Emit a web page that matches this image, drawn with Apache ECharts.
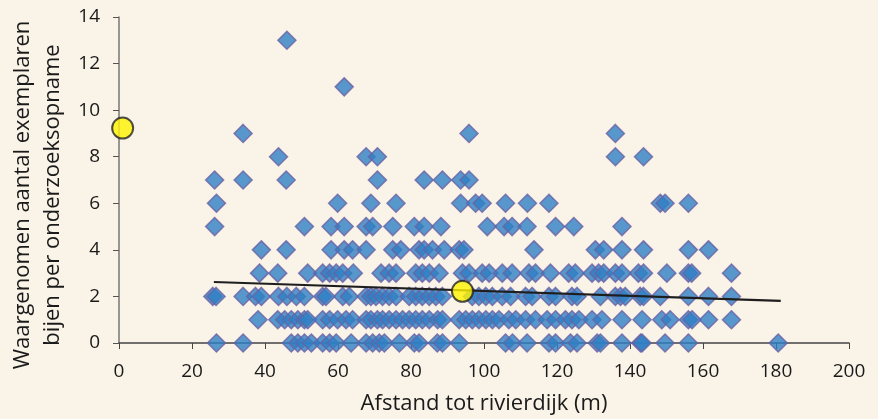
<!DOCTYPE html>
<html>
<head>
<meta charset="utf-8">
<script src="https://cdn.jsdelivr.net/npm/echarts@6/dist/echarts.min.js"></script>
<style>
  html, body { margin: 0; padding: 0; background: #F9F3E8; }
  #chart { width: 878px; height: 419px; }
</style>
</head>
<body>
<div id="chart"></div>
<script>
// afstand tot rivierdijk (m) per waargenomen aantal bijen
const count0 = [26.7, 34.0, 47.2, 49.0, 50.8, 52.7, 55.8, 57.7, 59.5, 63.6, 67.7, 69.5, 71.3, 72.7, 76.8, 80.9, 82.2, 87.2, 88.6, 93.2, 105.9, 107.8, 111.8, 117.8, 119.6, 123.7, 125.5, 131.0, 131.9, 137.8, 142.9, 143.3, 149.6, 156.0, 180.6];
const count1 = [38.1, 43.5, 45.4, 47.2, 49.0, 50.8, 51.7, 55.8, 57.7, 59.9, 62.2, 64.0, 67.7, 69.0, 70.8, 72.2, 74.0, 75.9, 77.7, 79.5, 81.3, 83.1, 85.0, 87.3, 88.6, 93.2, 95.0, 96.8, 98.6, 100.5, 102.3, 104.1, 106.8, 108.7, 111.4, 114.1, 117.3, 119.6, 122.3, 124.1, 126.0, 129.6, 132.3, 137.8, 143.3, 148.7, 151.0, 156.0, 157.0, 161.5, 167.8];
const count2 = [25.7, 26.6, 34.0, 37.4, 39.0, 43.7, 46.0, 48.6, 50.8, 55.8, 56.7, 61.3, 63.1, 67.7, 69.0, 70.4, 72.2, 74.0, 75.9, 79.5, 81.3, 83.1, 85.0, 86.8, 88.6, 96.8, 98.6, 100.5, 102.3, 105.0, 107.3, 111.4, 113.2, 117.8, 119.6, 124.1, 125.5, 131.9, 136.0, 137.4, 138.7, 142.8, 143.7, 148.3, 156.0, 161.5, 167.8];
const count3 = [38.5, 43.5, 51.7, 55.8, 57.7, 59.5, 61.3, 64.2, 71.8, 74.0, 75.9, 81.3, 83.1, 85.0, 87.7, 94.1, 95.9, 99.5, 101.4, 105.0, 107.7, 112.3, 114.1, 118.2, 123.2, 125.0, 129.6, 131.4, 132.8, 136.0, 137.8, 142.3, 143.7, 150.1, 156.0, 156.9, 167.8];
const count4 = [39.0, 45.8, 58.1, 61.7, 64.0, 67.7, 75.0, 77.2, 82.2, 83.6, 85.9, 89.1, 93.2, 94.5, 113.7, 130.5, 132.8, 137.8, 143.7, 156.0, 161.5];
const count5 = [26.2, 50.8, 58.1, 61.7, 67.7, 69.5, 75.0, 80.9, 83.6, 88.2, 100.9, 105.5, 107.7, 111.8, 119.6, 124.6, 137.8];
const count6 = [26.7, 59.9, 69.0, 75.9, 93.6, 97.7, 99.5, 105.9, 111.9, 117.8, 148.3, 149.6, 156.0];
const count7 = [26.2, 34.0, 45.8, 70.8, 83.6, 88.6, 93.6, 95.9];
const count8 = [43.7, 67.7, 70.8, 136.0, 143.7];
const count9 = [34.0, 95.9, 136.0];
const count11 = [61.7];
const count13 = [46.0];

const countRows = [
    [0, count0], [1, count1], [2, count2], [3, count3], [4, count4],
    [5, count5], [6, count6], [7, count7], [8, count8], [9, count9],
    [11, count11], [13, count13]
];

// trendlijn (begin en eind) en de twee gemarkeerde punten
const trendX = [26.0, 181.3];
const trendY = [2.62, 1.81];
const markX = [1.0, 94.1];
const markY = [9.23, 2.22];

const xTicks = { min: 0, max: 200, interval: 20 };
const yTicks = { min: 0, max: 14, interval: 2 };

let points = [];
countRows.forEach(([n, xs]) => {
    xs.forEach(x => points.push([x, n]));
});

const chart = echarts.init(document.getElementById('chart'));
const font = '"Open Sans", sans-serif';

chart.setOption({
    backgroundColor: '#F9F3E8',
    animation: false,
    grid: {
        left: 119, right: 29, top: 17, bottom: 76,
        containLabel: false, outerBoundsMode: 'none'
    },
    xAxis: {
        type: 'value',
        ...xTicks,
        name: 'Afstand tot rivierdijk (m)',
        nameLocation: 'middle',
        nameGap: 50,
        nameTextStyle: { fontFamily: font, fontSize: 22, color: '#1a1a1a' },
        axisLine: { onZero: false, lineStyle: { color: '#444', width: 1.5 } },
        axisTick: { inside: false, length: 6, lineStyle: { color: '#444' } },
        axisLabel: { margin: 19, fontFamily: font, fontSize: 19, color: '#1a1a1a' },
        splitLine: { show: false }
    },
    yAxis: {
        type: 'value',
        ...yTicks,
        name: 'Waargenomen aantal exemplaren\nbijen per onderzoeksopname',
        nameLocation: 'middle',
        nameGap: 50,
        nameTextStyle: {
            fontFamily: font, fontSize: 22, color: '#1a1a1a', lineHeight: 30,
            padding: [0, 30, 0, 0]
        },
        axisLine: { show: true, lineStyle: { color: '#777', width: 1.5 } },
        axisTick: { show: true, length: 6, lineStyle: { color: '#555' } },
        axisLabel: { margin: 19, fontFamily: font, fontSize: 19, color: '#1a1a1a' },
        splitLine: { show: false }
    },
    series: [
        {
            type: 'scatter',
            symbol: 'diamond',
            symbolSize: 18,
            data: points,
            itemStyle: { color: '#2E80C4', borderColor: '#6C62A2', borderWidth: 1.5 },
            z: 2
        },
        {
            type: 'line',
            data: trendX.map((x, i) => [x, trendY[i]]),
            symbol: 'none',
            lineStyle: { color: '#1E1E1E', width: 2.2 },
            z: 3
        },
        {
            type: 'scatter',
            symbol: 'circle',
            symbolSize: 21,
            data: markX.map((x, i) => [x, markY[i]]),
            itemStyle: { color: '#FFF200', borderColor: '#222', borderWidth: 2 },
            z: 4
        }
    ]
});
</script>
</body>
</html>
